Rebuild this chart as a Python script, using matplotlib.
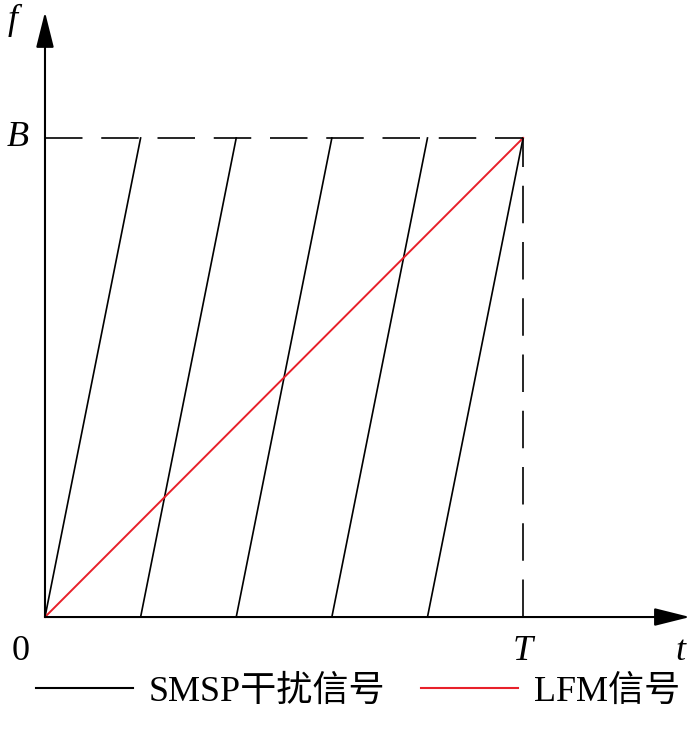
import matplotlib.pyplot as plt

# normalised time / frequency (T = 1, B = 1)
T = 1.0
B = 1.0
smsp_starts = [0.0, 0.2, 0.4, 0.6, 0.8]
smsp_width = 0.2
lfm_t = [0.0, T]
lfm_f = [0.0, B]

plt.rcParams['lines.scale_dashes'] = False
serif_cjk = ['Liberation Serif', 'Noto Sans CJK SC']

fig = plt.figure(figsize=(7.0, 7.32), dpi=100)
ax = fig.add_axes([0, 0, 1, 1])
ax.set_xlim(-0.0941, 1.370)
ax.set_ylim(-0.240, 1.288)
ax.axis('off')

# SMSP sub-sweeps
for i, t0 in enumerate(smsp_starts):
    ax.plot([t0, t0 + smsp_width], [0, B], color='black', lw=1.2,
            label='SMSP干扰信号' if i == 0 else None)

# LFM
ax.plot(lfm_t, lfm_f, color='#e8202a', lw=1.4, label='LFM信号')

# dashed guides
ax.plot([0, T], [B, B], color='black', lw=1.2, dashes=(27, 13.5))
ax.plot([T, T], [0, B], color='black', lw=1.2, dashes=(27, 13.5))

# axes with arrows
arrow = dict(arrowstyle='-|>,head_length=1.0,head_width=0.25', lw=1.5,
             color='black', mutation_scale=22, shrinkA=0, shrinkB=0)
ax.annotate('', xy=(0, 1.263), xytext=(0, 0), arrowprops=arrow)
ax.annotate('', xy=(1.349, 0), xytext=(0, 0), arrowprops=arrow)

# labels
lab = dict(fontsize=26, family='Liberation Serif', ha='center', va='center')
ax.text(-0.068, 1.245, 'f', style='italic', **lab)
ax.text(-0.058, B, 'B', style='italic', **lab)
ax.text(-0.05, -0.072, '0', **lab)
ax.text(T, -0.072, 'T', style='italic', **lab)
ax.text(1.33, -0.072, 't', style='italic', **lab)

leg = ax.legend(loc='center', bbox_to_anchor=(0.511, 0.054), ncol=2, frameon=False,
                handlelength=2.7, columnspacing=1.0, handletextpad=0.42,
                borderpad=0, borderaxespad=0,
                prop={'family': serif_cjk, 'size': 26})
for line in leg.get_lines():
    line.set_linewidth(1.5)

fig.savefig('out.png', dpi=100)
plt.close()
